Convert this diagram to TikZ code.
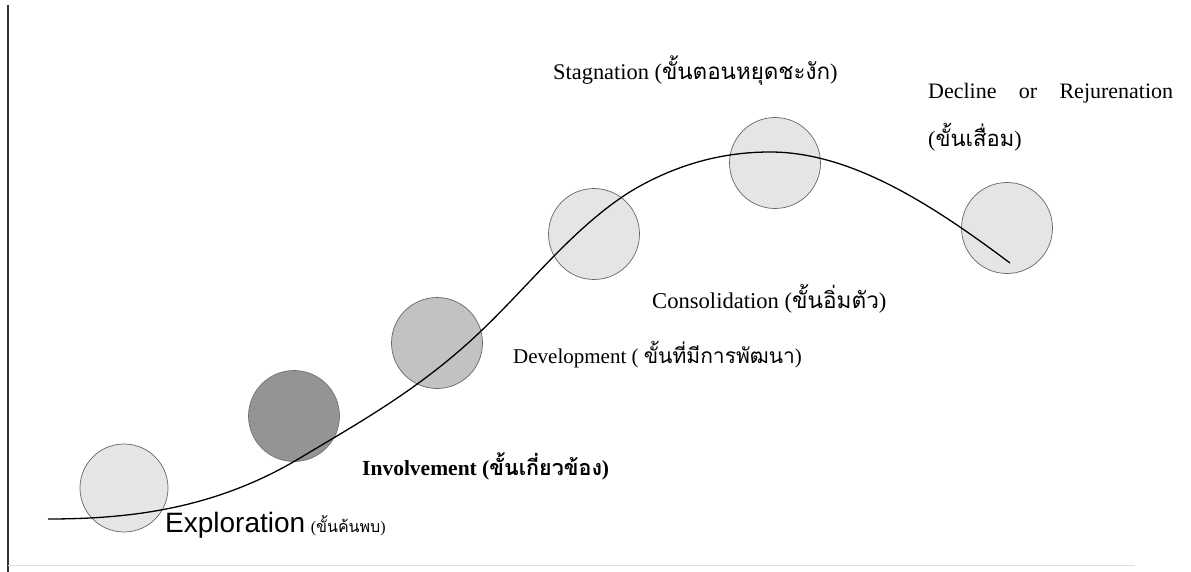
\documentclass[tikz,border=0pt]{standalone}
\usepackage{fontspec}
\setmainfont{Liberation Serif}
\newfontfamily\thai[Script=Thai]{Loma}
\newfontfamily\arialf{Liberation Sans}
\begin{document}
\begin{tikzpicture}[x=1pt,y=-1pt,
  stage/.style={circle, draw=black!60, line width=0.7pt, minimum size=91pt, inner sep=0pt},
  lbl/.style={anchor=base west, inner sep=0pt, font=\fontsize{22}{26}\selectfont},
  curve/.style={line width=1.3pt, black}
]
\useasboundingbox (0,0) rectangle (1191,572);
\fill[white] (0,0) rectangle (1191,572);
% frame lines
\coordinate (ltop) at (8,5);
\coordinate (lbot) at (8,572);
\draw[line width=1.2pt, black!80] (ltop) -- (lbot);
\coordinate (bl) at (8,565);
\coordinate (br) at (1135,565);
\draw[line width=1pt, gray!25] (bl) -- (br);

% circles
\node[stage, fill=black!10, minimum size=88pt] (c1) at (124,488) {};
\node[stage, fill=black!42, draw=black!55] (c2) at (294,416) {};
\node[stage, fill=black!24] (c3) at (437,343) {};
\node[stage, fill=black!10] (c4) at (594,234) {};
\node[stage, fill=black!10] (c5) at (775,163) {};
\node[stage, fill=black!10] (c6) at (1007,228) {};

% curve
\coordinate (p0) at (48,519);
\coordinate (p1) at (300,458);
\coordinate (p2) at (480,332);
\coordinate (p3) at (560,250);
\coordinate (p4) at (640,186);
\coordinate (p5) at (770,152);
\coordinate (p6) at (1010,263);
\draw[curve] (p0)
  .. controls (132,519) and (216,508.4) .. (p1)
  .. controls (360,422) and (420,389) .. (p2)
  .. controls (506.7,306.7) and (533.3,276.7) .. (p3)
  .. controls (586.7,223.3) and (613.3,200.7) .. (p4)
  .. controls (683.3,162.2) and (726.7,152) .. (p5)
  .. controls (850,152) and (930,203) .. (p6);

% labels
\node[lbl, font=\fontsize{22.4}{26}\selectfont] (t5) at (553,80) {Stagnation ({\thai ขั้นตอนหยุดชะงัก})};
\node[lbl] (t6a) at (928,99) {\makebox[245pt][s]{Decline or Rejurenation}};
\node[lbl] (t6b) at (928,147) {({\thai ขั้นเสื่อม})};
\node[lbl, font=\fontsize{22.6}{26}\selectfont] (t4) at (652,308) {Consolidation ({\thai ขั้นอิ่มตัว})};
\node[lbl, font=\fontsize{21}{25}\selectfont] (t3) at (513,363) {Development ( {\thai ขั้นที่มีการพัฒนา})};
\node[lbl, font=\fontsize{21.5}{25}\selectfont\bfseries] (t2) at (362,475) {Involvement ({\thai ขั้นเกี่ยวข้อง})};
\node[lbl] (t1) at (165,532) {{\arialf\fontsize{28}{32}\selectfont Exploration} {\fontsize{16}{19}\selectfont({\thai ขั้นค้นพบ})}};
\end{tikzpicture}
\end{document}
